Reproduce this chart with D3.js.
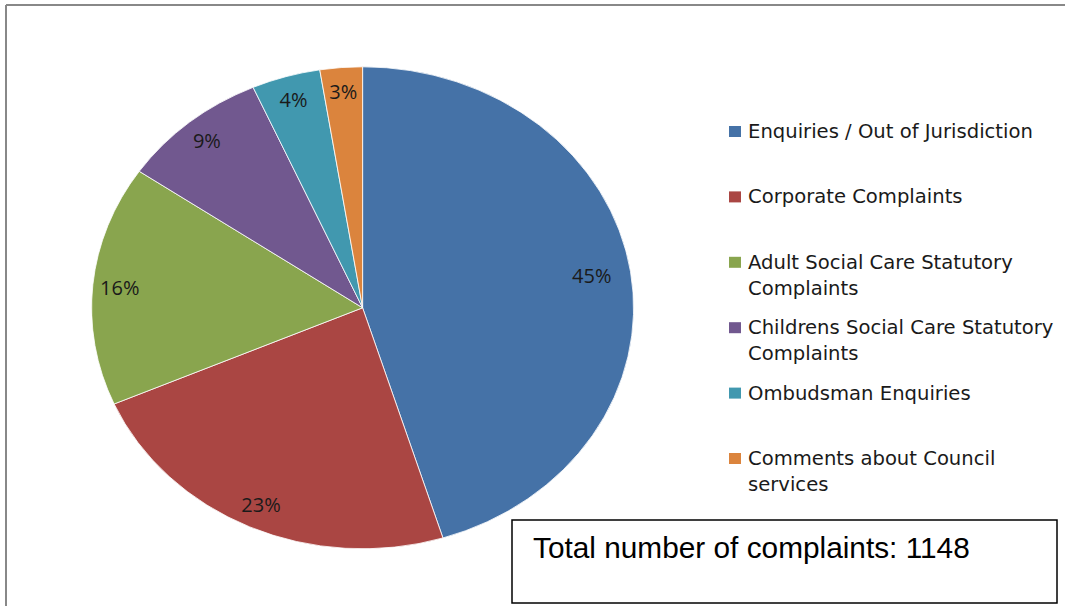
<!DOCTYPE html>
<html>
<head>
<meta charset="utf-8">
<script src="https://cdn.jsdelivr.net/npm/d3@7"></script>
<style>
  body { margin: 0; background: #fff; }
  .slice-label { font-family: "Open Sans", sans-serif; font-size: 20px; fill: #1a1a1a; }
  .legend-text { font-family: "DejaVu Sans", sans-serif; font-size: 19.6px; fill: #1a1a1a; }
  .total-text { font-family: "Liberation Sans", Arial, sans-serif; font-size: 29.8px; fill: #000; }
</style>
</head>
<body>
<div id="vis"></div>
<script>
const FRAME_WIDTH = 1065;
const FRAME_HEIGHT = 606;

// complaint categories, counts (total 1148) and slice colours
const CATEGORIES = [
  ["Enquiries / Out of Jurisdiction"],
  ["Corporate Complaints"],
  ["Adult Social Care Statutory", "Complaints"],
  ["Childrens Social Care Statutory", "Complaints"],
  ["Ombudsman Enquiries"],
  ["Comments about Council", "services"]
];
const COUNTS = [519, 267, 185, 101, 47, 29];
const COLORS = ["#4572A7", "#AA4643", "#89A54E", "#71588F", "#4198AF", "#DB843D"];
const TOTAL_LABEL = "Total number of complaints: 1148";

const CX = 362.6, CY = 307.8;
const RX = 271, RY = 241;

const svg = d3.select("#vis")
  .append("svg")
  .attr("width", FRAME_WIDTH)
  .attr("height", FRAME_HEIGHT);

// outer frame (top + left edges visible)
svg.append("line")
  .attr("x1", 6).attr("y1", 5).attr("x2", FRAME_WIDTH).attr("y2", 5)
  .attr("stroke", "#888").attr("stroke-width", 2);
svg.append("line")
  .attr("x1", 6).attr("y1", 5).attr("x2", 6).attr("y2", FRAME_HEIGHT)
  .attr("stroke", "#888").attr("stroke-width", 2);

const data = COUNTS.map((v, i) => ({ name: CATEGORIES[i], value: v, color: COLORS[i] }));
const total = d3.sum(COUNTS);

const pie = d3.pie().sort(null).value(d => d.value);
const arcs = pie(data);

const arc = d3.arc().innerRadius(0).outerRadius(RX);
const labelArc = d3.arc().innerRadius(RX * 0.9).outerRadius(RX * 0.9);

// pie is drawn on a circle and squashed vertically into an ellipse
const pieG = svg.append("g")
  .attr("transform", `translate(${CX},${CY}) scale(1,${RY / RX})`);

pieG.selectAll("path")
  .data(arcs)
  .enter()
  .append("path")
  .attr("d", arc)
  .attr("fill", d => d.data.color)
  .attr("stroke", "#fff")
  .attr("stroke-width", 0.8)
  .attr("vector-effect", "non-scaling-stroke");

// percentage labels
svg.selectAll(".slice-label")
  .data(arcs)
  .enter()
  .append("text")
  .attr("class", "slice-label")
  .attr("x", d => CX + labelArc.centroid(d)[0] - (d.index === 0 ? 12 : 0))
  .attr("y", d => CY + labelArc.centroid(d)[1] * RY / RX)
  .attr("text-anchor", "middle")
  .attr("dominant-baseline", "central")
  .text(d => Math.round(d.data.value / total * 100) + "%");

// legend
const LEG_X = 729, LEG_Y0 = 138, LEG_STEP = 65.4, LINE_H = 26;
const legend = svg.selectAll(".legend")
  .data(data)
  .enter()
  .append("g")
  .attr("class", "legend")
  .attr("transform", (d, i) => `translate(${LEG_X},${LEG_Y0 + i * LEG_STEP})`);

legend.append("rect")
  .attr("x", 0).attr("y", -12)
  .attr("width", 12).attr("height", 11)
  .attr("fill", d => d.color);

legend.append("text")
  .attr("class", "legend-text")
  .attr("x", 19)
  .selectAll("tspan")
  .data(d => d.name)
  .enter()
  .append("tspan")
  .attr("x", 19)
  .attr("dy", (d, i) => i === 0 ? 0 : LINE_H)
  .text(d => d);

// total box
svg.append("rect")
  .attr("x", 512).attr("y", 520)
  .attr("width", 545).attr("height", 83)
  .attr("fill", "#fff")
  .attr("stroke", "#000")
  .attr("stroke-width", 1.5);

svg.append("text")
  .attr("class", "total-text")
  .attr("x", 533).attr("y", 558)
  .text(TOTAL_LABEL);
</script>
</body>
</html>
